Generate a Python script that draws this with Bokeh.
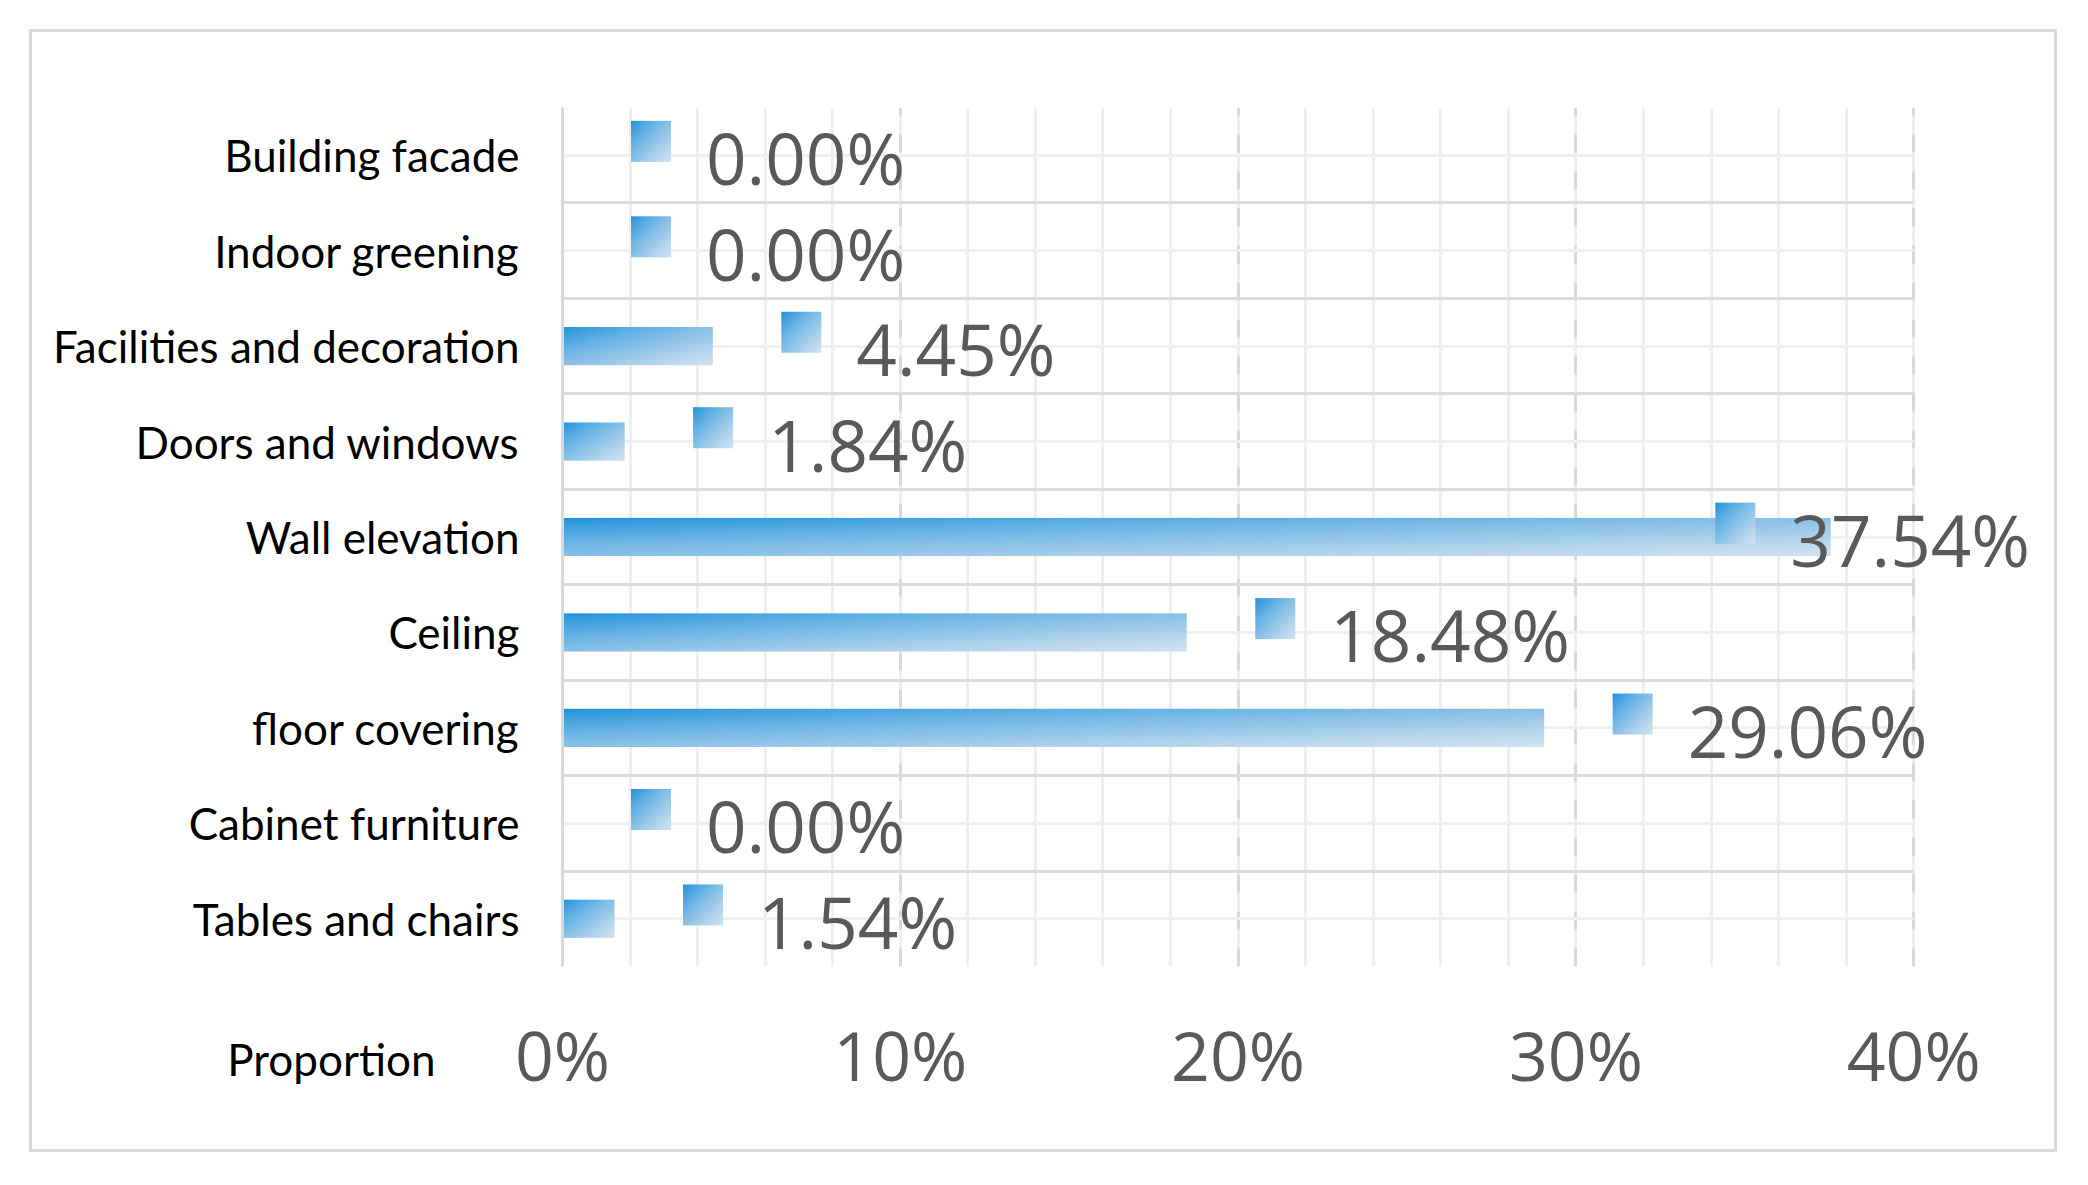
import numpy as np
from bokeh.plotting import figure
from bokeh.models import Range1d, FixedTicker, Label, LabelSet, ColumnDataSource
from bokeh.core.properties import value
from bokeh.embed import file_html
from bokeh.resources import INLINE

# ---- data (bottom-to-top, Excel category order) ----
categories = ["Tables and chairs", "Cabinet furniture", "floor covering", "Ceiling",
              "Wall elevation", "Doors and windows", "Facilities and decoration",
              "Indoor greening", "Building facade"]
proportions = [1.54, 0.00, 29.06, 18.48, 37.54, 1.84, 4.45, 0.00, 0.00]
x_ticks = [0, 10, 20, 30, 40]
x_tick_labels = ["0%", "10%", "20%", "30%", "40%"]
x_minor_ticks = list(range(0, 41, 2))
axis_title = "Proportion"

# ---- style constants ----
DARK = np.array([26, 144, 220], dtype=float)
LIGHT = np.array([210, 226, 239], dtype=float)
BAR_H = 0.40          # bar thickness in category units
LABEL_GAP = 2.62      # data-label key offset from bar end (x units)
LABEL_MAX = 34.72     # data labels are kept inside the chart area
KEY_RAISE = 0.145     # key square sits a little above the category centre
X_VIEW_END = 44.05    # visible room to the right of the 40% line for the labels


def gradient(h, w):
    u = np.linspace(0, 1, w)[None, :]
    v_top = 1 - np.linspace(0, 1, h)[:, None]
    t = (((u + v_top) / 2) ** 0.75)[..., None]
    rgb = DARK * (1 - t) + LIGHT * t
    img = np.empty((h, w), dtype=np.uint32)
    view = img.view(dtype=np.uint8).reshape((h, w, 4))
    view[..., :3] = np.round(rgb).astype(np.uint8)
    view[..., 3] = 255
    return img


n = len(categories)
ypos = list(range(n))
x_lo, x_hi = x_ticks[0], x_ticks[-1]

p = figure(width=2028, height=1123, x_range=Range1d(x_lo, X_VIEW_END), y_range=Range1d(-0.5, n - 0.5),
           output_backend="svg", toolbar_location=None,
           min_border_left=530, min_border_right=10, min_border_top=75, min_border_bottom=176)
p.styles = {"border": "3px solid #d9d9d9", "margin-left": "29px", "margin-top": "29px"}
p.background_fill_color = "white"
p.border_fill_color = "white"
p.outline_line_color = None

# grids
p.xgrid.ticker = FixedTicker(ticks=x_ticks, minor_ticks=x_minor_ticks)
p.xgrid.grid_line_color = "#d9d9d9"
p.xgrid.grid_line_width = 3
p.xgrid.grid_line_dash = "18 19"
p.xgrid.minor_grid_line_color = "#efefef"
p.xgrid.minor_grid_line_width = 3

p.ygrid.ticker = FixedTicker(ticks=[y - 0.5 for y in ypos] + [n - 0.5], minor_ticks=ypos)
p.ygrid.cross_bounds = (x_lo, x_hi)
p.ygrid.grid_line_color = "#dcdcdc"
p.ygrid.grid_line_width = 3
p.ygrid.minor_grid_line_color = "#f0f0f0"
p.ygrid.minor_grid_line_width = 3

# axes
p.xaxis.ticker = FixedTicker(ticks=x_ticks, minor_ticks=[])
p.xaxis.major_label_overrides = {t: s for t, s in zip(x_ticks, x_tick_labels)}
p.xaxis.axis_line_color = None
p.xaxis.major_tick_line_color = None
p.xaxis.minor_tick_line_color = None
p.xaxis.major_label_text_font = "Open Sans"
p.xaxis.major_label_text_font_size = "68px"
p.xaxis.major_label_text_color = "#595959"
p.xaxis.major_label_standoff = 35

p.yaxis.ticker = FixedTicker(ticks=ypos, minor_ticks=[])
p.yaxis.major_label_overrides = {y: c for y, c in zip(ypos, categories)}
p.yaxis.axis_line_color = "#d9d9d9"
p.yaxis.axis_line_width = 3
p.yaxis.major_tick_line_color = None
p.yaxis.minor_tick_line_color = None
p.yaxis.major_label_text_font = "Lato"
p.yaxis.major_label_text_font_size = "44px"
p.yaxis.major_label_text_color = "#000000"
p.yaxis.major_label_standoff = 37

# bars (gradient images)
bar_img = gradient(32, 256)
bx = [y for y, v in zip(ypos, proportions) if v > 0]
bv = [v for v in proportions if v > 0]
p.image_rgba(image=[bar_img] * len(bv), x=[0] * len(bv), y=[y - BAR_H / 2 for y in bx],
             dw=bv, dh=[BAR_H] * len(bv))

# data-label keys + texts
key_x = [min(v + LABEL_GAP, LABEL_MAX) for v in proportions]
key_img = gradient(32, 32)
p.image_rgba(image=[key_img] * n, x=key_x, y=[y + KEY_RAISE for y in ypos],
             dw=40, dh=41, dw_units="screen", dh_units="screen", anchor="center")

src = ColumnDataSource(dict(x=key_x, y=ypos, text=[f"{v:.2f}%" for v in proportions]))
labels = LabelSet(x="x", y="y", text="text", source=src, x_offset=55, y_offset=-30,
                  text_align="left", text_baseline="alphabetic",
                  text_font=value("Open Sans"), text_font_size="71px", text_color="#595959")
p.add_layout(labels)

p.add_layout(Label(x=-127, y=97, x_units="screen", y_units="screen", text=axis_title,
                   text_align="right", text_baseline="middle",
                   text_font="Lato", text_font_size="44px", text_color="#000000"), "below")

open("out.html", "w").write(file_html(p, INLINE))
